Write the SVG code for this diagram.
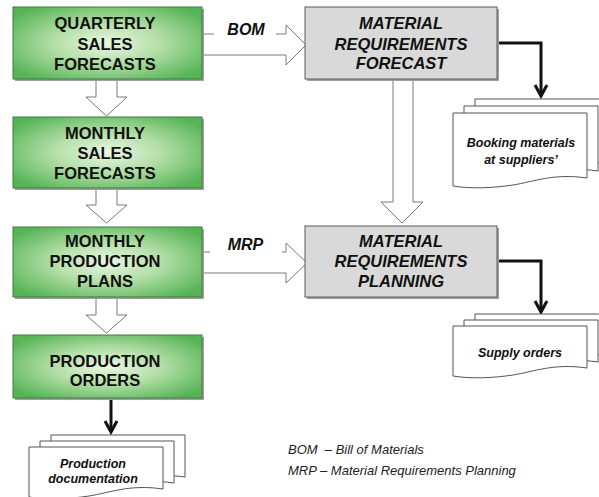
<svg xmlns="http://www.w3.org/2000/svg" width="599" height="497" viewBox="0 0 599 497">
  <defs>
    <radialGradient id="greenFill" cx="0.5" cy="0.5" r="0.62">
      <stop offset="0" stop-color="#eaf6e4"/>
      <stop offset="0.45" stop-color="#b4dfa8"/>
      <stop offset="1" stop-color="#56b456"/>
    </radialGradient>
    <style>
      .shadow { fill: #a0a0a0; }
      .green { fill: url(#greenFill); stroke: #3f7d3f; stroke-width: 1; }
      .grey { fill: #d9d9d9; stroke: #5a5a5a; stroke-width: 1; }
      .boxText { font-family: "Liberation Sans", Arial, sans-serif; font-weight: bold; font-size: 16.5px; fill: #111; text-anchor: middle; }
      .boxTextIt { font-family: "Liberation Sans", Arial, sans-serif; font-weight: bold; font-style: italic; font-size: 16.5px; fill: #111; text-anchor: middle; }
      .docText { font-family: "Liberation Sans", Arial, sans-serif; font-weight: bold; font-style: italic; font-size: 12.5px; fill: #111; text-anchor: middle; }
      .label { font-family: "Liberation Sans", Arial, sans-serif; font-weight: bold; font-style: italic; font-size: 16px; fill: #111; text-anchor: middle; }
      .legend { font-family: "Liberation Sans", Arial, sans-serif; font-style: italic; font-size: 13px; fill: #222; white-space: pre; }
      .hollow { fill: #fff; stroke: #7a7a7a; stroke-width: 1; stroke-linejoin: miter; }
      .hollowFill { fill: #fff; stroke: none; }
      .hollowLine { fill: none; stroke: #7a7a7a; stroke-width: 1; }
      .page { fill: #fff; stroke: #555; stroke-width: 1; }
      .thick { fill: none; stroke: #111; stroke-width: 3; stroke-linejoin: miter; }
    </style>
  </defs>

  <rect width="599" height="497" fill="#fff"/>

  <!-- connectors -->
  <g id="connectors">
    <!-- hollow arrows down the planning column -->
    <path class="hollow" d="M96,79 V97 H86 L106.5,116 L127,97 H117 V79"/>
    <path class="hollow" d="M96,188 V205 H86 L106.5,223 L127,205 H117 V188"/>
    <path class="hollow" d="M96,297 V315 H86 L106.5,333 L127,315 H117 V297"/>
    <!-- forecast to planning -->
    <path class="hollow" d="M393,79 V202 H381 L402,223 L423,202 H413 V79"/>

    <!-- BOM arrow -->
    <path class="hollowFill" d="M202,34 H286 V25 L306,45 L286,65 V55 H202 Z"/>
    <path class="hollowLine" d="M202,34 H214 M276,34 H286 V25 L306,45 L286,65 V55 H202"/>
    <text class="label" x="246" y="35">BOM</text>

    <!-- MRP arrow -->
    <path class="hollowFill" d="M202,252 H286 V243 L307,263 L286,283 V273 H202 Z"/>
    <path class="hollowLine" d="M202,252 H210 M282,252 H286 V243 L307,263 L286,283 V273 H202"/>
    <text class="label" x="245.5" y="250">MRP</text>

    <!-- document outputs -->
    <path class="thick" d="M497,43 H541 V96"/>
    <polyline class="thick" points="535,85 541,96 547,85"/>
    <path class="thick" d="M497,261 H541 V312"/>
    <polyline class="thick" points="535,301 541,312 547,301"/>
    <path class="thick" d="M111,398 V432"/>
    <polyline class="thick" points="105,421 111,432 117,421"/>
  </g>

  <!-- planning column -->
  <g id="quarterly-sales-forecasts">
    <rect class="shadow" x="15" y="9" width="189" height="72"/>
    <rect class="green" x="13" y="7" width="189" height="72"/>
    <text class="boxText" x="105" y="29">QUARTERLY</text>
    <text class="boxText" x="105" y="50">SALES</text>
    <text class="boxText" x="105" y="70">FORECASTS</text>
  </g>

  <g id="monthly-sales-forecasts">
    <rect class="shadow" x="15" y="119" width="189" height="71"/>
    <rect class="green" x="13" y="117" width="189" height="71"/>
    <text class="boxText" x="105" y="139">MONTHLY</text>
    <text class="boxText" x="105" y="159">SALES</text>
    <text class="boxText" x="105" y="179">FORECASTS</text>
  </g>

  <g id="monthly-production-plans">
    <rect class="shadow" x="15" y="229" width="189" height="70"/>
    <rect class="green" x="13" y="227" width="189" height="70"/>
    <text class="boxText" x="105" y="247">MONTHLY</text>
    <text class="boxText" x="105" y="267">PRODUCTION</text>
    <text class="boxText" x="105" y="287">PLANS</text>
  </g>

  <g id="production-orders">
    <rect class="shadow" x="15" y="337" width="189" height="63"/>
    <rect class="green" x="13" y="335" width="189" height="63"/>
    <text class="boxText" x="105" y="367">PRODUCTION</text>
    <text class="boxText" x="105" y="386">ORDERS</text>
  </g>

  <!-- material column -->
  <g id="material-requirements-forecast">
    <rect class="shadow" x="307" y="9" width="192" height="72"/>
    <rect class="grey" x="305" y="7" width="192" height="72"/>
    <text class="boxTextIt" x="401" y="29">MATERIAL</text>
    <text class="boxTextIt" x="401" y="50">REQUIREMENTS</text>
    <text class="boxTextIt" x="401" y="69">FORECAST</text>
  </g>

  <g id="material-requirements-planning">
    <rect class="shadow" x="307" y="228" width="192" height="71"/>
    <rect class="grey" x="305" y="226" width="192" height="71"/>
    <text class="boxTextIt" x="401" y="247">MATERIAL</text>
    <text class="boxTextIt" x="401" y="267">REQUIREMENTS</text>
    <text class="boxTextIt" x="401" y="287">PLANNING</text>
  </g>

  <!-- document stacks -->
  <g id="booking-materials">
    <path class="page" d="M475,99 H609 V164 C575,159 555,168 535,171 C515,174 493,175 475,172 Z"/>
    <path class="page" d="M464,106 H598 V171 C564,166 544,175 524,178 C504,181 482,182 464,179 Z"/>
    <path class="page" d="M453,113 H587 V178 C553,173 533,182 513,185 C493,188 471,189 453,186 Z"/>
    <text class="docText" x="521" y="147">Booking materials</text>
    <text class="docText" x="521" y="164">at suppliers’</text>
  </g>

  <g id="supply-orders">
    <path class="page" d="M475,314 H609 V356 C575,351 555,360 535,363 C515,366 493,367 475,364 Z"/>
    <path class="page" d="M464,320 H598 V362 C564,357 544,366 524,369 C504,372 482,373 464,370 Z"/>
    <path class="page" d="M453,326 H587 V368 C553,363 533,372 513,375 C493,378 471,379 453,376 Z"/>
    <text class="docText" x="520" y="357">Supply orders</text>
  </g>

  <g id="production-documentation">
    <path class="page" d="M51,435 H185 V477 C151,472 131,481 111,484 C91,487 69,488 51,485 Z"/>
    <path class="page" d="M40,441 H174 V483 C140,478 120,487 100,490 C80,493 58,494 40,491 Z"/>
    <path class="page" d="M29,447 H163 V489 C129,484 109,493 89,496 C69,499 47,500 29,497 Z"/>
    <text class="docText" x="93" y="468">Production</text>
    <text class="docText" x="93" y="483">documentation</text>
  </g>

  <!-- legend -->
  <g id="legend">
    <text class="legend" x="288" y="454">BOM  – Bill of Materials</text>
    <text class="legend" x="288" y="475">MRP – Material Requirements Planning</text>
  </g>
</svg>
